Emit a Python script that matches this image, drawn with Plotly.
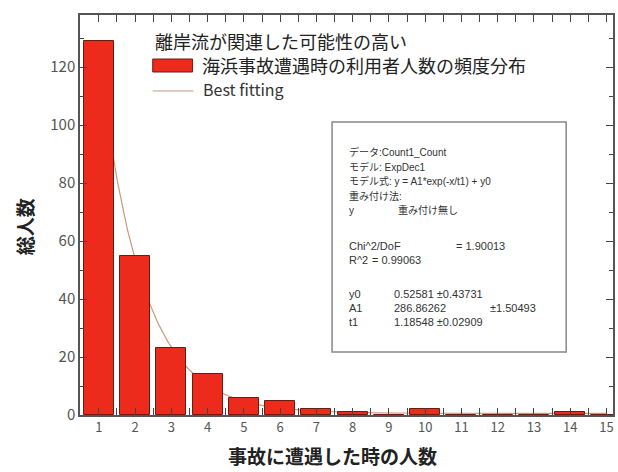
import numpy as np
import plotly.graph_objects as go

# Frequency of the number of beach users involved per accident
people = list(range(1, 16))
counts = [129, 55, 23, 14, 6, 5, 2, 1, 0, 2, 0, 0, 0, 1, 0]

# ExpDec1 fit parameters: y = A1*exp(-x/t1) + y0
y0 = 0.52581
A1 = 286.86262
t1 = 1.18548
y0_err = 0.43731
A1_err = 1.50493
t1_err = 0.02909
chi2_dof = 1.90013
r2 = 0.99063

JP = "Noto Sans CJK JP"
BOX_FAMILY = "Liberation Sans, Noto Sans CJK JP"
W, H = 618, 472
ML, MR, MT, MB = 80, 3, 15, 57
PW, PH = W - ML - MR, H - MT - MB


def px(x):
    return (x - ML) / PW


def py(y):
    return (H - MB - y) / PH


x_fit = np.linspace(1, 15, 400)
y_fit = A1 * np.exp(-x_fit / t1) + y0

fig = go.Figure()
# fit curve on the base axes so the bars (overlaid axes) sit on top of it
fig.add_trace(go.Scatter(
    x=x_fit, y=y_fit, mode="lines", yaxis="y",
    line=dict(color="#c79a7c", width=1.2),
    showlegend=False, hoverinfo="skip",
))
fig.add_trace(go.Bar(
    x=people, y=counts, width=0.83, yaxis="y2",
    marker=dict(color="#ec2b1d", line=dict(color="#6e1a12", width=1)),
    showlegend=False,
))

axis_common = dict(
    showline=True, linecolor="#555555", linewidth=1.5, mirror="allticks",
    ticks="inside", tickcolor="#444444", tickwidth=1.2,
    showgrid=False, zeroline=False,
)

fig.update_xaxes(
    range=[0.48, 15.18], tickmode="array", tickvals=people,
    ticklen=7,
    minor=dict(ticks="inside", ticklen=4, dtick=0.5, tick0=0.5, tickcolor="#444444"),
    tickfont=dict(family=JP, size=13, color="#555555"),
    **axis_common,
)
fig.update_yaxes(
    range=[0, 138], tickmode="linear", tick0=0, dtick=20,
    ticklen=7,
    minor=dict(ticks="inside", ticklen=4, dtick=10, tickcolor="#444444"),
    tickfont=dict(family=JP, size=15, color="#555555"),
    **axis_common,
)
fig.update_layout(yaxis2=dict(overlaying="y", matches="y", range=[0, 138],
                              visible=False, showgrid=False, zeroline=False))

shapes = [
    # legend swatches
    dict(type="rect", xref="paper", yref="paper",
         x0=px(153), x1=px(193), y0=py(72), y1=py(59),
         fillcolor="#ec2b1d", line=dict(color="#6e1a12", width=1)),
    dict(type="line", xref="paper", yref="paper",
         x0=px(153), x1=px(194), y0=py(91), y1=py(91),
         line=dict(color="#c79a7c", width=1.2)),
    # fit result box
    dict(type="rect", xref="paper", yref="paper",
         x0=px(333), x1=px(568), y0=py(352), y1=py(122),
         fillcolor="white", line=dict(color="#888888", width=1.5)),
]

annotations = [
    dict(text="離岸流が関連した可能性の高い", x=px(153), y=py(41),
         font=dict(family=JP, size=18, color="#222222")),
    dict(text="海浜事故遭遇時の利用者人数の頻度分布", x=px(200), y=py(65),
         font=dict(family=JP, size=18, color="#222222")),
    dict(text="Best fitting", x=px(201), y=py(89),
         font=dict(family=JP, size=16, color="#333333")),
]

# fit report: (text, x, y, font size)
box_lines = [
    ("データ:Count1_Count", 348, 152.0, 10),
    ("モデル: ExpDec1", 348, 166.6, 10),
    ("モデル式: y = A1*exp(-x/t1) + y0", 348, 181.2, 10),
    ("重み付け法:", 348, 195.8, 10),
    ("y", 348, 210.4, 10),
    ("重み付け無し", 397, 210.4, 10),
    ("Chi^2/DoF", 348, 246, 11),
    (f"= {chi2_dof:.5f}", 455, 246, 11),
    ("R^2", 348, 260, 11),
    (f"= {r2:.5f}", 371, 260, 11),
    ("y0", 348, 294, 11),
    (f"{y0:.5f} ±{y0_err:.5f}", 393, 294, 11),
    ("A1", 348, 308, 11),
    (f"{A1:.5f}", 393, 308, 11),
    (f"±{A1_err:.5f}", 490, 308, 11),
    ("t1", 348, 322, 11),
    (f"{t1:.5f} ±{t1_err:.5f}", 393, 322, 11),
]
for text, x, y, size in box_lines:
    annotations.append(dict(text=text, x=px(x), y=py(y),
                            font=dict(family=BOX_FAMILY, size=size, color="#333333")))

for a in annotations:
    a.update(xanchor="left")

# axis titles
annotations.append(dict(text="事故に遭遇した時の人数", x=px(333), y=py(455),
                        xanchor="center",
                        font=dict(family=JP, size=19, color="#222222", weight="bold")))
annotations.append(dict(text="総人数", x=px(24), y=py(227), textangle=-90,
                        xanchor="center",
                        font=dict(family=JP, size=19, color="#222222", weight="bold")))

for a in annotations:
    a.update(xref="paper", yref="paper", yanchor="middle", showarrow=False)

fig.update_layout(
    width=W, height=H,
    margin=dict(l=ML, r=MR, t=MT, b=MB),
    paper_bgcolor="white", plot_bgcolor="white",
    bargap=0, shapes=shapes, annotations=annotations,
    font=dict(family=JP),
)

fig.write_html("out.html")
